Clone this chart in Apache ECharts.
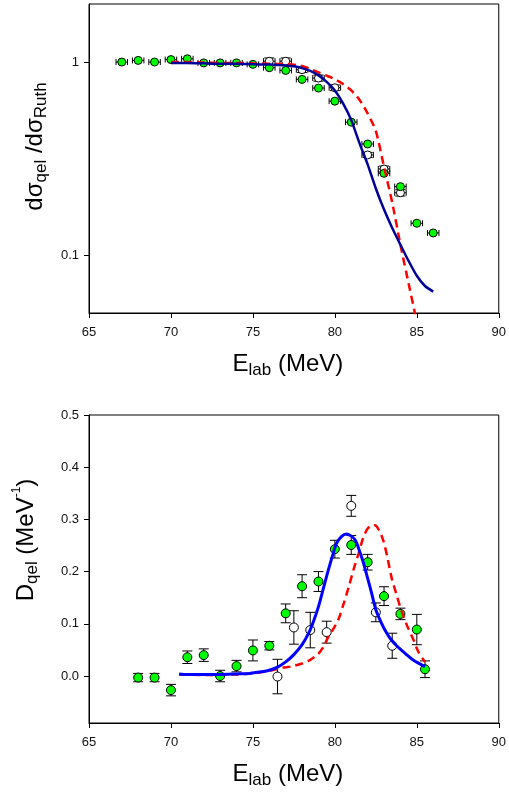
<!DOCTYPE html>
<html><head><meta charset="utf-8">
<script src="https://cdn.jsdelivr.net/npm/echarts@6/dist/echarts.min.js"></script>
<style>html,body{margin:0;padding:0;background:#fff}#c{width:509px;height:794px}</style>
</head><body><div id="c"></div>
<script>
// ---------- data ----------
const xTicks = [65, 70, 75, 80, 85, 90];
const topYTicks = [0.1, 1];
const botYTicks = [0.0, 0.1, 0.2, 0.3, 0.4, 0.5];

// top panel: dσ_qel/dσ_Ruth
const topGreenE = [67, 68, 69, 70, 71, 72, 73, 74, 75, 76, 77, 78, 79, 80, 81, 82, 83, 84, 85, 86];
const topGreenV = [1.0, 1.02, 1.0, 1.03, 1.04, 0.99, 0.99, 0.99, 0.973, 0.935, 0.905, 0.813, 0.733, 0.627, 0.488, 0.376, 0.265, 0.226, 0.146, 0.13];
const topGreenXErr = [0.35, 0.35, 0.35, 0.35, 0.35, 0.35, 0.35, 0.35, 0.35, 0.35, 0.35, 0.35, 0.35, 0.35, 0.35, 0.35, 0.35, 0.35, 0.35, 0.35];
const topWhiteE = [76, 77, 78, 79, 80, 82, 83, 84];
const topWhiteV = [1.01, 1.01, 0.913, 0.826, 0.736, 0.33, 0.279, 0.21];
const topWhiteYErr = [0.04, 0.04, 0.03, 0.03, 0.025, 0.01, 0.01, 0.008];
const topWhiteXErr = [0.35, 0.35, 0.35, 0.35, 0.35, 0.35, 0.35, 0.35];

const topBlueE = [70, 71, 72, 73, 74, 75, 76, 77, 77.5, 78, 78.5, 79, 79.5, 80, 80.5, 81, 81.5, 82, 82.5, 83, 83.5, 84, 84.5, 85, 85.5, 86];
const topBlueV = [0.99, 0.99, 0.985, 0.98, 0.98, 0.975, 0.97, 0.96, 0.95, 0.93, 0.9, 0.853, 0.79, 0.713, 0.61, 0.5, 0.38, 0.295, 0.221, 0.172, 0.138, 0.113, 0.093, 0.078, 0.069, 0.0645];
const topRedE = [70, 71, 72, 73, 74, 75, 76, 77, 78, 78.5, 79, 79.5, 80, 80.5, 81, 81.5, 82, 82.5, 83, 83.5, 84, 84.5, 85];
const topRedV = [1.0, 1.0, 0.995, 0.99, 0.99, 0.985, 0.98, 0.975, 0.955, 0.92, 0.885, 0.85, 0.815, 0.77, 0.713, 0.638, 0.542, 0.44, 0.286, 0.187, 0.113, 0.071, 0.045];

// bottom panel: D_qel
const botGreenE = [68, 69, 70, 71, 72, 73, 74, 75, 76, 77, 78, 79, 80, 81, 82, 83, 84, 85, 85.5];
const botGreenV = [-0.003, -0.003, -0.027, 0.036, 0.040, 0.0, 0.019, 0.049, 0.058, 0.12, 0.172, 0.181, 0.243, 0.251, 0.218, 0.153, 0.119, 0.089, 0.013];
const botGreenErr = [0.008, 0.008, 0.011, 0.012, 0.012, 0.011, 0.011, 0.02, 0.008, 0.018, 0.022, 0.019, 0.017, 0.018, 0.015, 0.018, 0.011, 0.029, 0.016];
const botWhiteE = [76.5, 77.5, 78.5, 79.5, 81, 82.5, 83.5];
const botWhiteV = [-0.001, 0.093, 0.088, 0.084, 0.326, 0.122, 0.058];
const botWhiteErr = [0.033, 0.032, 0.034, 0.021, 0.02, 0.018, 0.024];

const botBlueE = [70.5, 71, 72, 73, 74, 74.8, 75.5, 76, 76.5, 77, 77.5, 78, 78.4, 78.7, 79, 79.3, 79.6, 79.9, 80.1, 80.4, 80.7, 81, 81.25, 81.5, 81.75, 82, 82.25, 82.5, 82.85, 83.15, 83.45, 83.8, 84.3, 84.8, 85.5];
const botBlueV = [0.004, 0.003, 0.003, 0.003, 0.004, 0.005, 0.008, 0.011, 0.017, 0.027, 0.041, 0.06, 0.082, 0.105, 0.133, 0.168, 0.203, 0.235, 0.254, 0.267, 0.272, 0.268, 0.26, 0.24, 0.216, 0.187, 0.158, 0.127, 0.101, 0.083, 0.069, 0.057, 0.043, 0.03, 0.018];
const botRedE = [70.5, 72, 74, 75, 76, 76.8, 77.3, 78, 78.5, 79, 79.3, 79.6, 79.9, 80.2, 80.5, 80.85, 81.15, 81.45, 81.7, 81.95, 82.2, 82.45, 82.7, 82.95, 83.2, 83.45, 83.75, 84.05, 84.4, 84.8, 85.1, 85.5];
const botRedV = [0.003, 0.002, 0.003, 0.005, 0.01, 0.016, 0.018, 0.024, 0.031, 0.043, 0.056, 0.075, 0.09, 0.107, 0.135, 0.171, 0.205, 0.235, 0.262, 0.28, 0.288, 0.289, 0.279, 0.26, 0.228, 0.19, 0.157, 0.126, 0.097, 0.069, 0.046, 0.027];

// ---------- helpers ----------
const zip = (a, b) => a.map((v, i) => [v, b[i]]);
const FONT = 'Liberation Sans, Arial, sans-serif';

function errRender(params, api) {
  const e = api.value(0), v = api.value(1), dx = api.value(2), dy = api.value(3);
  const st = { stroke: '#000', lineWidth: 1 };
  const ch = [];
  if (dx > 0) {
    const a = api.coord([e - dx, v]), b = api.coord([e + dx, v]);
    ch.push({ type: 'line', shape: { x1: a[0], y1: a[1], x2: b[0], y2: b[1] }, style: st });
    ch.push({ type: 'line', shape: { x1: a[0], y1: a[1] - 3, x2: a[0], y2: a[1] + 3 }, style: st });
    ch.push({ type: 'line', shape: { x1: b[0], y1: b[1] - 3, x2: b[0], y2: b[1] + 3 }, style: st });
  }
  if (dy > 0) {
    const a = api.coord([e, v - dy]), b = api.coord([e, v + dy]);
    ch.push({ type: 'line', shape: { x1: a[0], y1: a[1], x2: b[0], y2: b[1] }, style: st });
    ch.push({ type: 'line', shape: { x1: a[0] - 5, y1: a[1], x2: a[0] + 5, y2: a[1] }, style: st });
    ch.push({ type: 'line', shape: { x1: b[0] - 5, y1: b[1], x2: b[0] + 5, y2: b[1] }, style: st });
  }
  return { type: 'group', children: ch };
}

const rich = {
  m: { fontSize: 24, fontFamily: FONT, color: '#000', lineHeight: 30, verticalAlign: 'middle' },
  s: { fontSize: 17, fontFamily: FONT, color: '#000', lineHeight: 16, verticalAlign: 'bottom' },
  p: { fontSize: 12, fontFamily: FONT, color: '#000', lineHeight: 12, verticalAlign: 'top' }
};

function xAxisCfg(gi) {
  return {
    gridIndex: gi, type: 'value', min: 65, max: 90, interval: 5,
    axisLine: { show: true, onZero: false, lineStyle: { color: '#000', width: 1 } },
    axisTick: { show: true, inside: false, length: 5, lineStyle: { color: '#000' } },
    axisLabel: { fontSize: 13, fontFamily: FONT, color: '#111', margin: 13 },
    splitLine: { show: false },
    name: '{m|E}{s|lab}{m| (MeV)}', nameLocation: 'middle', nameGap: 36,
    nameTextStyle: { rich: rich, padding: [0, 12, 0, 0] }
  };
}

const option = {
  animation: false,
  backgroundColor: '#fff',
  grid: [
    { left: 89, right: 8, top: 4, height: 309, show: true, borderColor: '#000', borderWidth: 1 },
    { left: 89, right: 8, top: 415, height: 308, show: true, borderColor: '#000', borderWidth: 1 }
  ],
  xAxis: [xAxisCfg(0), xAxisCfg(1)],
  yAxis: [
    {
      gridIndex: 0, type: 'log', min: 0.05, max: 2, logBase: 10,
      axisLine: { show: true, onZero: false, lineStyle: { color: '#000' } },
      axisTick: { show: true, length: 5, lineStyle: { color: '#000' }, customValues: topYTicks },
      axisLabel: { fontSize: 13, fontFamily: FONT, color: '#111', margin: 10, customValues: topYTicks,
        formatter: v => (v >= 1 ? String(Math.round(v)) : String(v)) },
      splitLine: { show: false }, minorTick: { show: false },
      name: '{m|dσ}{s|qel}{m| /dσ}{s|Ruth}', nameLocation: 'middle', nameRotate: 90, nameGap: 33,
      nameTextStyle: { rich: rich, padding: [0, 0, 0, 24] }
    },
    {
      gridIndex: 1, type: 'value', min: -0.09, max: 0.5,
      axisLine: { show: true, onZero: false, lineStyle: { color: '#000' } },
      axisTick: { show: true, length: 5, lineStyle: { color: '#000' }, customValues: botYTicks },
      axisLabel: { fontSize: 13, fontFamily: FONT, color: '#111', margin: 10, customValues: botYTicks,
        formatter: v => v.toFixed(1) },
      splitLine: { show: false },
      name: '{m|D}{s|qel}{m| (MeV}{p|-1}{m|)}', nameLocation: 'middle', nameRotate: 90, nameGap: 48,
      nameTextStyle: { rich: rich, padding: [0, 0, 0, 58] }
    }
  ],
  series: [
    // top panel
    { type: 'custom', xAxisIndex: 0, yAxisIndex: 0, renderItem: errRender, encode: { x: 0, y: 1 }, z: 2,
      data: topGreenE.map((e, i) => [e, topGreenV[i], topGreenXErr[i], 0]) },
    { type: 'custom', xAxisIndex: 0, yAxisIndex: 0, renderItem: errRender, encode: { x: 0, y: 1 }, z: 2,
      data: topWhiteE.map((e, i) => [e, topWhiteV[i], topWhiteXErr[i], topWhiteYErr[i]]) },
    { type: 'scatter', xAxisIndex: 0, yAxisIndex: 0, symbol: 'circle', symbolSize: 8, z: 3,
      itemStyle: { color: '#fff', borderColor: '#000', borderWidth: 1, opacity: 1 }, data: zip(topWhiteE, topWhiteV) },
    { type: 'scatter', xAxisIndex: 0, yAxisIndex: 0, symbol: 'circle', symbolSize: 8, z: 3,
      itemStyle: { color: '#00ff00', borderColor: '#000', borderWidth: 1, opacity: 1 }, data: zip(topGreenE, topGreenV) },
    { type: 'line', xAxisIndex: 0, yAxisIndex: 0, showSymbol: false, smooth: 0.2, z: 4,
      lineStyle: { color: '#ff0000', width: 2.5, type: [8, 5] }, data: zip(topRedE, topRedV) },
    { type: 'line', xAxisIndex: 0, yAxisIndex: 0, showSymbol: false, smooth: 0.2, z: 5,
      lineStyle: { color: '#000099', width: 2.5 }, data: zip(topBlueE, topBlueV) },

    // bottom panel
    { type: 'custom', xAxisIndex: 1, yAxisIndex: 1, renderItem: errRender, encode: { x: 0, y: 1 }, z: 2,
      data: botGreenE.map((e, i) => [e, botGreenV[i], 0, botGreenErr[i]]) },
    { type: 'custom', xAxisIndex: 1, yAxisIndex: 1, renderItem: errRender, encode: { x: 0, y: 1 }, z: 2,
      data: botWhiteE.map((e, i) => [e, botWhiteV[i], 0, botWhiteErr[i]]) },
    { type: 'scatter', xAxisIndex: 1, yAxisIndex: 1, symbol: 'circle', symbolSize: 9, z: 3,
      itemStyle: { color: '#fff', borderColor: '#000', borderWidth: 1, opacity: 1 }, data: zip(botWhiteE, botWhiteV) },
    { type: 'scatter', xAxisIndex: 1, yAxisIndex: 1, symbol: 'circle', symbolSize: 9, z: 3,
      itemStyle: { color: '#00ff00', borderColor: '#000', borderWidth: 1, opacity: 1 }, data: zip(botGreenE, botGreenV) },
    { type: 'line', xAxisIndex: 1, yAxisIndex: 1, showSymbol: false, smooth: 0.3, z: 4,
      lineStyle: { color: '#ff0000', width: 2.5, type: [8, 5] }, data: zip(botRedE, botRedV) },
    { type: 'line', xAxisIndex: 1, yAxisIndex: 1, showSymbol: false, smooth: 0.3, z: 5,
      lineStyle: { color: '#0000ff', width: 3 }, data: zip(botBlueE, botBlueV) }
  ]
};

const chart = echarts.init(document.getElementById('c'), null, { renderer: 'canvas' });
chart.setOption(option);
</script>
</body></html>
